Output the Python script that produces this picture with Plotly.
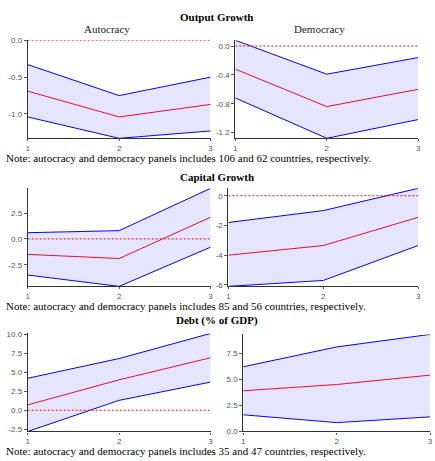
import plotly.graph_objects as go

W, H = 435, 461
steps = [1, 2, 3]

# Output Growth
out_auto_upper = [-0.33, -0.75, -0.50]
out_auto_mid = [-0.69, -1.04, -0.87]
out_auto_lower = [-1.04, -1.33, -1.23]
out_demo_upper = [0.08, -0.39, -0.16]
out_demo_mid = [-0.32, -0.84, -0.60]
out_demo_lower = [-0.72, -1.28, -1.02]

# Capital Growth
cap_auto_upper = [0.6, 0.8, 4.9]
cap_auto_mid = [-1.5, -1.9, 2.1]
cap_auto_lower = [-3.5, -4.6, -0.8]
cap_demo_upper = [-1.8, -1.0, 0.5]
cap_demo_mid = [-4.0, -3.35, -1.45]
cap_demo_lower = [-6.1, -5.7, -3.35]

# Debt
debt_auto_upper = [4.2, 6.8, 10.1]
debt_auto_mid = [0.7, 4.0, 6.9]
debt_auto_lower = [-2.8, 1.3, 3.7]
debt_demo_upper = [6.2, 8.1, 9.3]
debt_demo_mid = [3.9, 4.5, 5.4]
debt_demo_lower = [1.6, 0.85, 1.4]

yticks = [
    [0.0, -0.5, -1.0],
    [0.0, -0.4, -0.8, -1.2],
    [2.5, 0.0, -2.5],
    [0, -2, -4, -6],
    [10.0, 7.5, 5.0, 2.5, 0.0, -2.5],
    [0.0, 2.5, 5.0, 7.5],
]
ytick_fmt = ["{:.1f}", "{:.1f}", "{:.1f}", "{:.0f}", "{:.1f}", "{:.1f}"]

panel_titles = ["Output Growth", "Capital Growth", "Debt (% of GDP)"]
facet_labels = ["Autocracy", "Democracy"]
notes = [
    "Note: autocracy and democracy panels includes 106 and 62 countries, respectively.",
    "Note: autocracy and democracy panels includes 85 and 56 countries, respectively.",
    "Note: autocracy and democracy panels includes 35 and 47 countries, respectively.",
]

panels = [
    (out_auto_upper, out_auto_mid, out_auto_lower),
    (out_demo_upper, out_demo_mid, out_demo_lower),
    (cap_auto_upper, cap_auto_mid, cap_auto_lower),
    (cap_demo_upper, cap_demo_mid, cap_demo_lower),
    (debt_auto_upper, debt_auto_mid, debt_auto_lower),
    (debt_demo_upper, debt_demo_mid, debt_demo_lower),
]

# pixel boxes (left, right, top, bottom)
boxes = [
    (26, 211, 37, 137),
    (236, 421, 37, 137),
    (26, 211, 188, 288),
    (229, 421, 188, 288),
    (26, 211, 336, 436),
    (244, 433, 337, 436),
]

fig = go.Figure()
layout = {}
for i, ((up, mid, lo), (l, r, t, b)) in enumerate(zip(panels, boxes)):
    n = i + 1
    xa = "x" if n == 1 else f"x{n}"
    ya = "y" if n == 1 else f"y{n}"
    fig.add_trace(go.Scatter(x=steps, y=lo, xaxis=xa, yaxis=ya, mode="lines",
                             line=dict(color="blue", width=1), showlegend=False))
    fig.add_trace(go.Scatter(x=steps, y=up, xaxis=xa, yaxis=ya, mode="lines",
                             fill="tonexty", fillcolor="rgba(0,0,255,0.1)",
                             line=dict(color="blue", width=1), showlegend=False))
    fig.add_trace(go.Scatter(x=[steps[0], steps[-1]], y=[0, 0], xaxis=xa, yaxis=ya,
                             mode="lines", line=dict(color="red", width=1, dash="2px,2px"),
                             showlegend=False))
    fig.add_trace(go.Scatter(x=steps, y=mid, xaxis=xa, yaxis=ya, mode="lines",
                             line=dict(color="#e8102e", width=1), showlegend=False))
    ymin = min(min(lo), 0)
    ymax = max(max(up), 0)
    kx = "xaxis" if n == 1 else f"xaxis{n}"
    ky = "yaxis" if n == 1 else f"yaxis{n}"
    tickfont = dict(family="Liberation Sans, Arial, sans-serif", size=8, color="#555555")
    layout[kx] = dict(domain=[l / W, r / W], range=[steps[0], steps[-1]], anchor=ya,
                      tickvals=steps, ticktext=[str(s) for s in steps],
                      showline=True, linecolor="#333333", linewidth=1.2,
                      ticks="outside", ticklen=2, tickcolor="#555555",
                      showgrid=False, zeroline=False, tickfont=tickfont)
    layout[ky] = dict(domain=[1 - b / H, 1 - t / H], range=[ymin, ymax], anchor=xa,
                      tickvals=yticks[i], ticktext=[ytick_fmt[i].format(v) for v in yticks[i]],
                      showline=True, linecolor="#333333", linewidth=1,
                      ticks="outside", ticklen=3, tickcolor="#555555",
                      showgrid=False, zeroline=False, tickfont=tickfont)

annots = []
serif = "Liberation Serif, Times New Roman, serif"
for txt, y in zip(panel_titles, [13, 176, 323]):
    annots.append(dict(text=f"<b>{txt}</b>", x=217 / W, y=1 - y / H, xref="paper", yref="paper",
                       showarrow=False, xanchor="center", yanchor="middle",
                       font=dict(family=serif, size=11, color="black")))
for txt, x in zip(facet_labels, [106, 321]):
    annots.append(dict(text=txt, x=x / W, y=1 - 25 / H, xref="paper", yref="paper",
                       showarrow=False, xanchor="center", yanchor="middle",
                       font=dict(family=serif, size=11, color="#222222")))
for txt, y in zip(notes, [157, 308, 456]):
    annots.append(dict(text=txt, x=2 / W, y=1 - y / H, xref="paper", yref="paper",
                       showarrow=False, xanchor="left", yanchor="middle",
                       font=dict(family=serif, size=11, color="black")))

fig.update_layout(width=W, height=H, margin=dict(l=0, r=0, t=0, b=0),
                  plot_bgcolor="white", paper_bgcolor="white",
                  annotations=annots, **layout)
fig.write_html("out.html")
